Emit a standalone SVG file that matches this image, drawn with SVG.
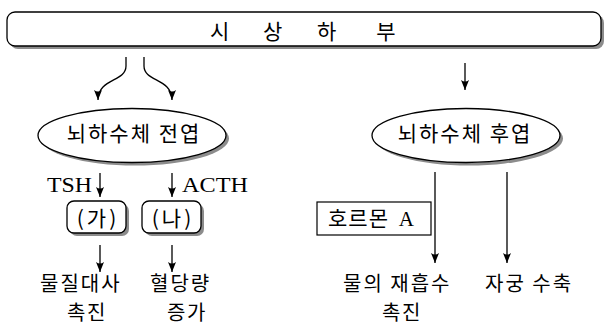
<svg xmlns="http://www.w3.org/2000/svg" width="606" height="325" viewBox="0 0 606 325">
<style>
.ko{font-family:"Noto Sans CJK KR","Noto Sans",sans-serif;font-size:21px;fill:#000}
.se{font-family:"Liberation Serif",serif;font-size:21px;fill:#000}
.sh{fill:#8c8c8c;stroke:none}
.bx{fill:#fff;stroke:#000;stroke-width:1.3}
.ln{fill:none;stroke:#000;stroke-width:1.3;marker-end:url(#ah)}
.lb{font-size:20px}
</style>
<defs>
<marker id="ah" markerUnits="userSpaceOnUse" markerWidth="12" markerHeight="10" refX="10" refY="4" orient="auto" overflow="visible">
<path d="M0,0 L10,4 L0,8 Q3,4 0,0 z" fill="#000"/>
</marker>
</defs>
<g id="hypothalamus">
<rect class="sh" x="10" y="15" width="594" height="34" rx="8"/>
<rect class="bx" x="7" y="12" width="594" height="34" rx="8"/>
<text class="ko" font-size="20" text-anchor="middle" y="39"><tspan x="222">시</tspan> <tspan x="275">상</tspan> <tspan x="329">하</tspan> <tspan x="386">부</tspan></text>
</g>
<g id="anterior">
<ellipse class="sh" cx="135" cy="138.5" rx="94" ry="27"/>
<ellipse class="bx" cx="132" cy="135.5" rx="94" ry="27"/>
<text class="ko" x="134" y="141" text-anchor="middle" letter-spacing="2">뇌하수체 전엽</text>
</g>
<g id="posterior">
<ellipse class="sh" cx="469" cy="138.5" rx="94" ry="27"/>
<ellipse class="bx" cx="466" cy="135.5" rx="94" ry="27"/>
<text class="ko" x="465" y="141" text-anchor="middle" letter-spacing="2">뇌하수체 후엽</text>
</g>
<g id="ga">
<rect class="sh" x="70" y="204" width="59" height="32" rx="7"/>
<rect class="bx" x="67" y="201" width="59" height="32" rx="7"/>
<text class="ko" x="98" y="226" text-anchor="middle" letter-spacing="3">(가)</text>
</g>
<g id="na">
<rect class="sh" x="145" y="204" width="59" height="32" rx="7"/>
<rect class="bx" x="142" y="201" width="59" height="32" rx="7"/>
<text class="ko" x="173" y="226" text-anchor="middle" letter-spacing="3">(나)</text>
</g>
<g id="hormoneA">
<rect x="317" y="202" width="114" height="33" fill="#fff" stroke="#000" stroke-width="1.2"/>
<text x="328" y="226"><tspan class="ko" letter-spacing="1">호르몬 </tspan><tspan class="se" dx="4">A</tspan></text>
</g>
<g id="metabolism">
<text class="ko lb" x="40" y="291" letter-spacing="2">물질대사</text>
<text class="ko lb" x="67" y="320" letter-spacing="1.5">촉진</text>
</g>
<g id="bloodsugar">
<text class="ko lb" x="150" y="291" letter-spacing="2">혈당량</text>
<text class="ko lb" x="167" y="320" letter-spacing="1.5">증가</text>
</g>
<g id="water">
<text class="ko lb" x="343" y="291" letter-spacing="2">물의 재흡수</text>
<text class="ko lb" x="382" y="320" letter-spacing="1.5">촉진</text>
</g>
<g id="uterus">
<text class="ko lb" x="485" y="291" letter-spacing="2">자궁 수축</text>
</g>
<g id="connectors">
<path class="ln" d="M126,57 V66 C126,82 98,78 98,100"/>
<path class="ln" d="M144,57 V66 C144,82 172,78 172,100"/>
<path class="ln" d="M465,63 V90"/>
<path class="ln" d="M100,173 V197"/>
<path class="ln" d="M172,173 V197"/>
<path class="ln" d="M100,245 V272"/>
<path class="ln" d="M172,245 V272"/>
<path class="ln" d="M435,172 V263"/>
<path class="ln" d="M507,172 V263"/>
<text class="se" x="92" y="192" text-anchor="end" textLength="45" lengthAdjust="spacingAndGlyphs">TSH</text>
<text class="se" x="182" y="192" textLength="66" lengthAdjust="spacingAndGlyphs">ACTH</text>
</g>
</svg>
